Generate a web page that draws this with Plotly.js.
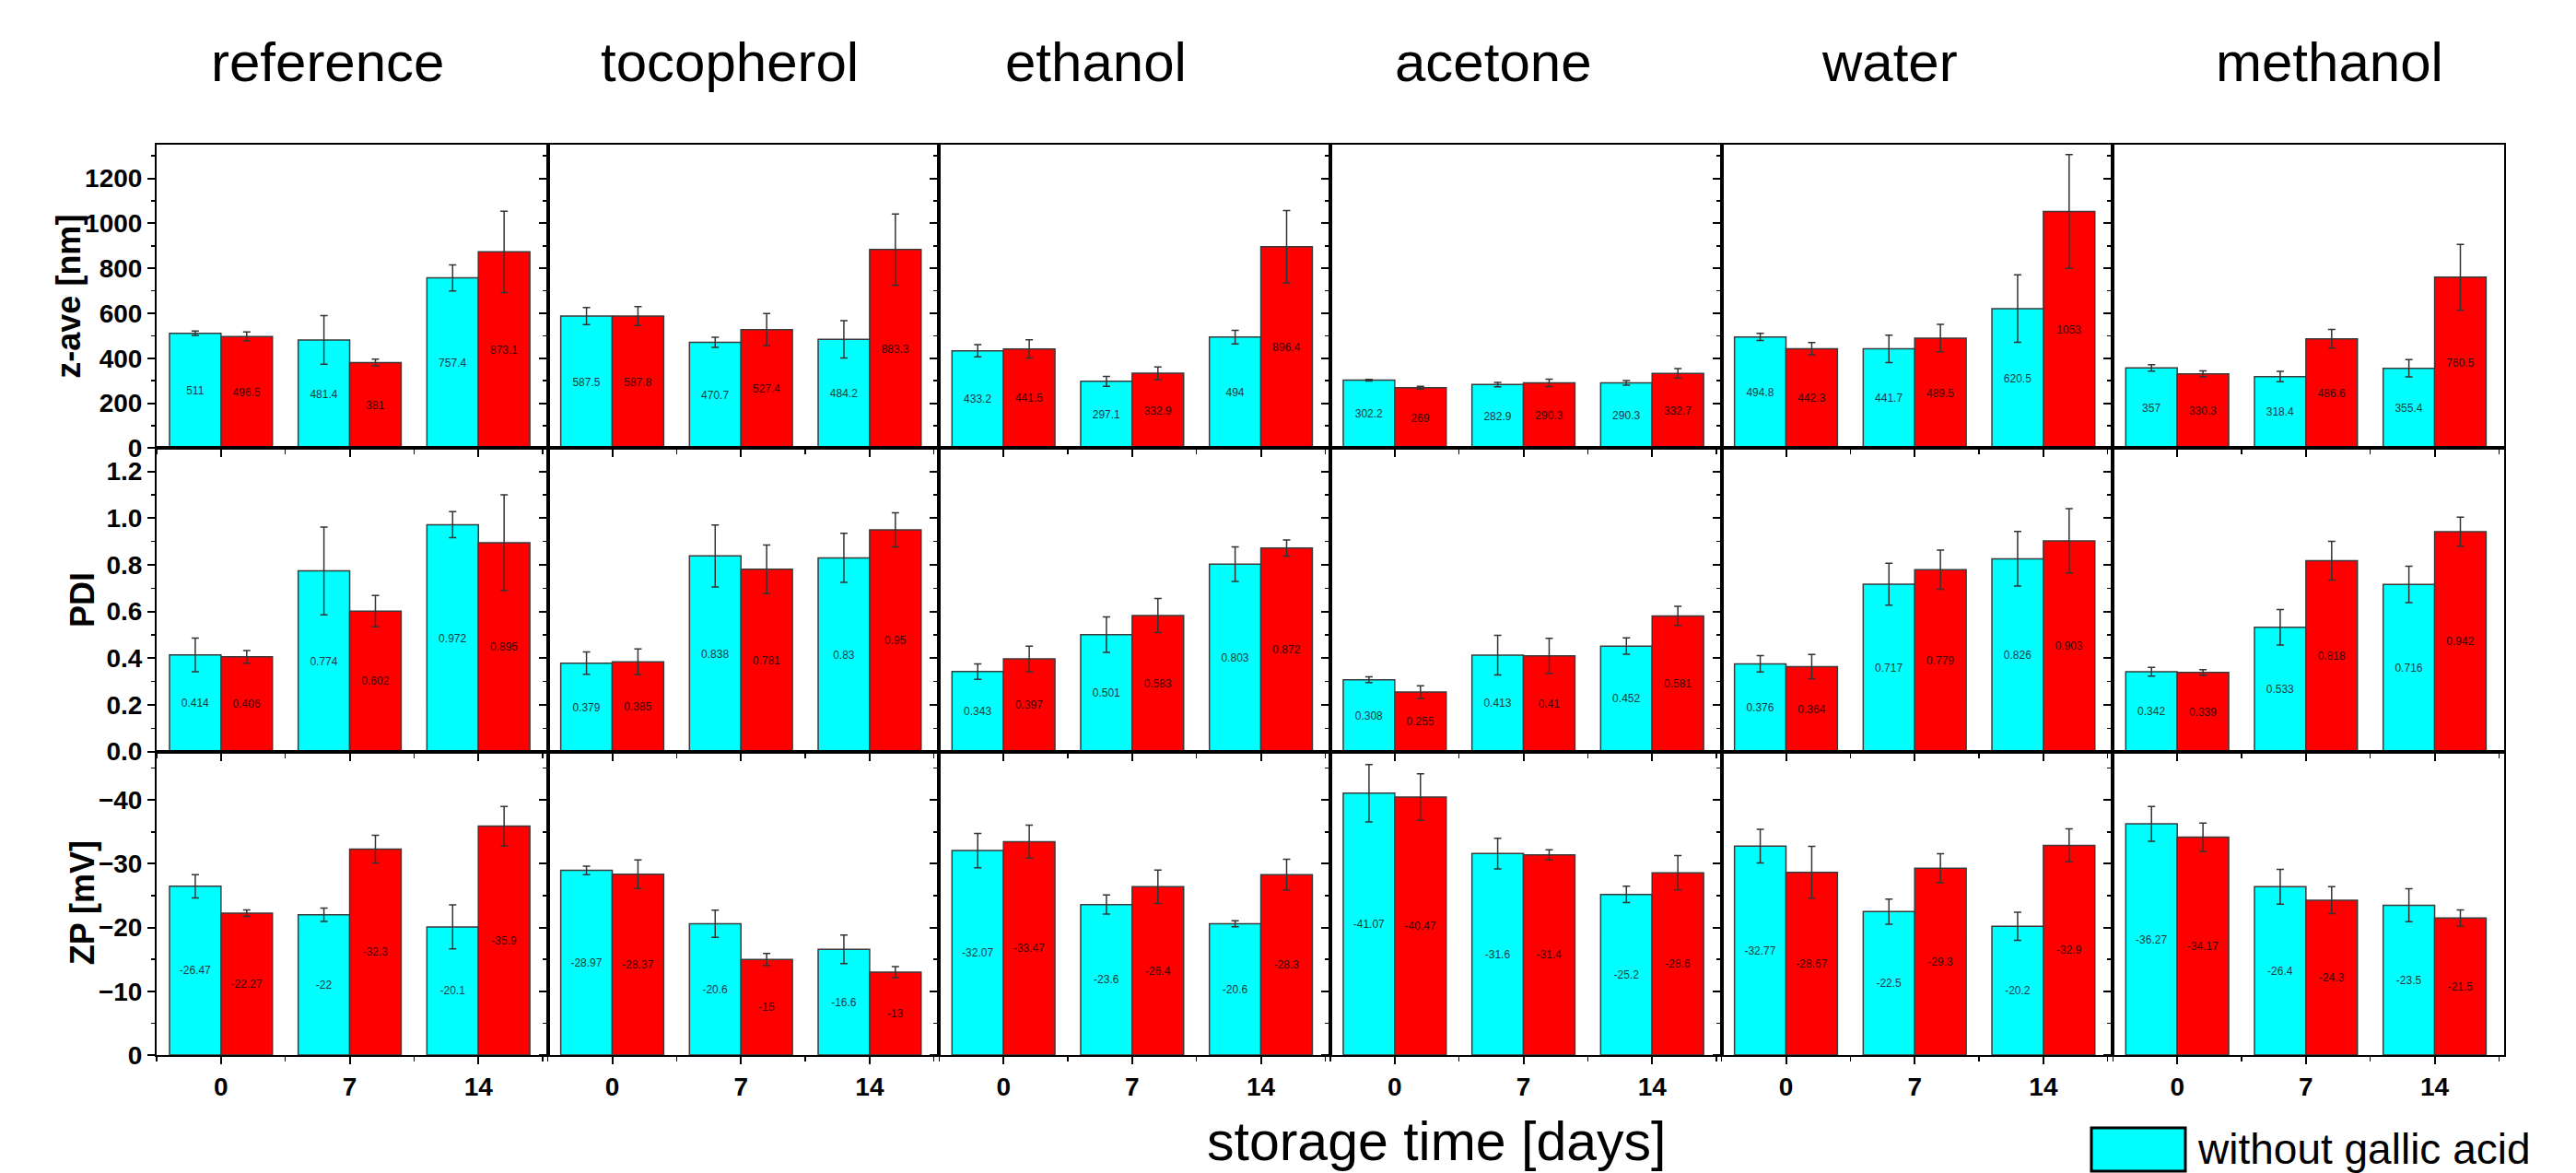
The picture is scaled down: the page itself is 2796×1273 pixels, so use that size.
<!DOCTYPE html>
<html><head><meta charset="utf-8">
<script src="https://cdn.plot.ly/plotly-3.0.1.min.js"></script>
<style>html,body{margin:0;padding:0;background:#fff;}#chart{width:2796px;height:1273px;}</style>
</head><body><div id="chart"></div>
<script>
// ---- data ----
const columns = ['reference','tocopherol','ethanol','acetone','water','methanol'];
const days = ['0','7','14'];
const seriesNames = ['without gallic acid','with gallic acid'];
const rowTitles = ['z-ave [nm]','PDI','ZP [mV]'];

const zaveWithout    = [[511,481.4,757.4],[587.5,470.7,484.2],[433.2,297.1,494],[302.2,282.9,290.3],[494.8,441.7,620.5],[357,318.4,355.4]];
const zaveWithoutErr = [[10,108,58],[38,23,83],[27,22,30],[4,10,10],[16,61,150],[14,23,38]];
const zaveWith       = [[496.5,381,873.1],[587.8,527.4,883.3],[441.5,332.9,896.4],[269,290.3,332.7],[442.3,489.5,1053],[330.3,486.6,760.5]];
const zaveWithErr    = [[20,15,181],[42,71,158],[40,28,161],[6,16,21],[27,61,253],[13,42,146]];

const pdiWithout     = [[0.414,0.774,0.972],[0.379,0.838,0.83],[0.343,0.501,0.803],[0.308,0.413,0.452],[0.376,0.717,0.826],[0.342,0.533,0.716]];
const pdiWithoutErr  = [[0.072,0.188,0.056],[0.048,0.133,0.105],[0.033,0.076,0.074],[0.012,0.085,0.035],[0.035,0.09,0.117],[0.019,0.076,0.078]];
const pdiWith        = [[0.406,0.602,0.895],[0.385,0.781,0.95],[0.397,0.583,0.872],[0.255,0.41,0.581],[0.364,0.779,0.903],[0.339,0.818,0.942]];
const pdiWithErr     = [[0.027,0.067,0.205],[0.055,0.104,0.073],[0.055,0.073,0.035],[0.027,0.075,0.041],[0.052,0.084,0.138],[0.012,0.083,0.062]];

const zpWithout      = [[-26.47,-22,-20.1],[-28.97,-20.6,-16.6],[-32.07,-23.6,-20.6],[-41.07,-31.6,-25.2],[-32.77,-22.5,-20.2],[-36.27,-26.4,-23.5]];
const zpWithoutErr   = [[1.81,1.05,3.45],[0.67,2.12,2.24],[2.7,1.5,0.48],[4.49,2.41,1.29],[2.63,1.96,2.2],[2.72,2.72,2.58]];
const zpWith         = [[-22.27,-32.3,-35.9],[-28.37,-15,-13],[-33.47,-26.4,-28.3],[-40.47,-31.4,-28.6],[-28.67,-29.3,-32.9],[-34.17,-24.3,-21.5]];
const zpWithErr      = [[0.5,2.17,3.1],[2.24,0.95,0.86],[2.58,2.62,2.41],[3.65,0.79,2.7],[4.06,2.27,2.58],[2.22,2.1,1.26]];

// ---- layout helpers ----
const W = 2796, H = 1273;
const plotL = 170, plotR = 2718, plotT = 157, plotB = 1145;
const colW = (plotR - plotL) / 6, rowH = (plotB - plotT) / 3;
const fx = p => p / W, fy = p => 1 - p / H;
const FONT = 'Liberation Sans, Arial, sans-serif';
const titleCenters = [355, 792, 1189, 1621, 2051, 2528];

const rows = [
  {wo: zaveWithout, woE: zaveWithoutErr, w: zaveWith, wE: zaveWithErr, range: [0, 1350], dtick: 200, minor: 100, fmt: ''},
  {wo: pdiWithout, woE: pdiWithoutErr, w: pdiWith, wE: pdiWithErr, range: [0, 1.3], dtick: 0.2, minor: 0.1, fmt: '.1f'},
  {wo: zpWithout, woE: zpWithoutErr, w: zpWith, wE: zpWithErr, range: [0, -47.6], dtick: 10, minor: 5, fmt: ''}
];

const traces = [];
const layout = {
  width: W, height: H, margin: {l: 0, r: 0, t: 0, b: 0},
  paper_bgcolor: '#fff', plot_bgcolor: '#fff',
  barmode: 'group', bargap: 0.2, bargroupgap: 0,
  font: {family: FONT, color: '#000'},
  showlegend: false,
  annotations: [], shapes: []
};

const xIdx = days.map((d, i) => i);

rows.forEach((row, r) => {
  columns.forEach((col, c) => {
    const idx = r * 6 + c + 1;
    const sfx = idx > 1 ? String(idx) : '';
    const xa = 'x' + sfx, ya = 'y' + sfx;
    const mk = (vals, errs, color, tcolor, name) => ({
      type: 'bar', x: xIdx, y: vals, name: name, xaxis: xa, yaxis: ya,
      text: vals.map(String), textposition: 'inside', insidetextanchor: 'middle',
      textangle: 0, constraintext: 'none',
      textfont: {family: FONT, size: 12, color: tcolor},
      marker: {color: color, line: {color: '#3a3a3a', width: 1.5}},
      error_y: {type: 'data', array: errs, visible: true, color: '#333', thickness: 1.5, width: 4},
      hoverinfo: 'skip', showlegend: false
    });
    traces.push(mk(row.wo[c], row.woE[c], '#00FFFF', '#1d3d3d', seriesNames[0]));
    traces.push(mk(row.w[c], row.wE[c], '#FF0000', '#3a0505', seriesNames[1]));

    layout['xaxis' + sfx] = {
      domain: [fx(plotL + c * colW), fx(plotL + (c + 1) * colW)],
      anchor: ya, range: [-0.5, 2.54], fixedrange: true,
      tickmode: 'array', tickvals: xIdx, ticktext: days,
      showticklabels: r === 2,
      tickfont: {family: FONT, size: 28, weight: 'bold', color: '#000'},
      ticks: 'outside', ticklen: 8, tickwidth: 2, tickcolor: '#000',
      minor: {tickmode: 'linear', tick0: -0.5, dtick: 1, ticks: 'outside', ticklen: 5, tickwidth: 1.5, tickcolor: '#000', showgrid: false},
      showline: true, linecolor: '#000', linewidth: 2, mirror: true,
      showgrid: false, zeroline: false
    };
    layout['yaxis' + sfx] = {
      domain: [fy(plotT + (r + 1) * rowH), fy(plotT + r * rowH)],
      anchor: xa, range: row.range, fixedrange: true,
      tickmode: 'linear', tick0: 0, dtick: row.dtick, tickformat: row.fmt,
      showticklabels: c === 0,
      tickfont: {family: FONT, size: 28, weight: 'bold', color: '#000'},
      ticks: 'outside', ticklen: 8, tickwidth: 2, tickcolor: '#000',
      minor: {tickmode: 'linear', tick0: 0, dtick: row.minor, ticks: 'outside', ticklen: 4, tickwidth: 1.5, tickcolor: '#000', showgrid: false},
      showline: true, linecolor: '#000', linewidth: 2, mirror: true,
      showgrid: false, zeroline: false
    };
  });
});

// column titles
columns.forEach((col, c) => {
  layout.annotations.push({
    xref: 'paper', yref: 'paper', x: fx(titleCenters[c]), y: fy(68),
    xanchor: 'center', yanchor: 'middle', showarrow: false, text: col,
    font: {family: FONT, size: 60, color: '#000'}
  });
});
// row titles
const rowTitleX = [75, 89, 89];
rowTitles.forEach((t, r) => {
  layout.annotations.push({
    xref: 'paper', yref: 'paper', x: fx(rowTitleX[r]), y: fy(plotT + (r + 0.5) * rowH),
    xanchor: 'center', yanchor: 'middle', showarrow: false, textangle: -90, text: t,
    font: {family: FONT, size: 36, weight: 'bold', color: '#000'}
  });
});
// x title
layout.annotations.push({
  xref: 'paper', yref: 'paper', x: fx(1559), y: fy(1239), xanchor: 'center', yanchor: 'middle',
  showarrow: false, text: 'storage time [days]', font: {family: FONT, size: 59, color: '#000'}
});
// legend (visible part)
layout.shapes.push({
  type: 'rect', xref: 'paper', yref: 'paper', x0: fx(2270), x1: fx(2372), y0: fy(1271), y1: fy(1224),
  fillcolor: '#00FFFF', line: {color: '#000', width: 3}
});
layout.annotations.push({
  xref: 'paper', yref: 'paper', x: fx(2383), y: fy(1247), xanchor: 'left', yanchor: 'middle',
  showarrow: false, text: seriesNames[0], font: {family: FONT, size: 46, color: '#000'}
});

Plotly.newPlot('chart', traces, layout, {staticPlot: true, displayModeBar: false});
</script>
</body></html>
